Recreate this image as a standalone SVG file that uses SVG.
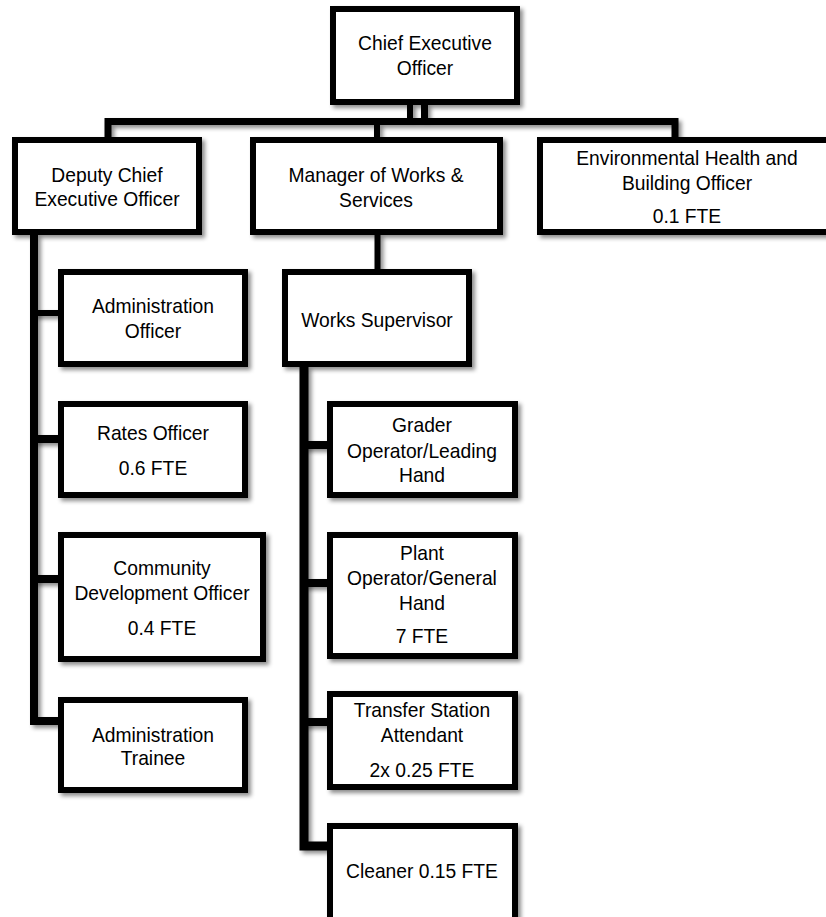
<svg xmlns="http://www.w3.org/2000/svg" width="826" height="917" viewBox="0 0 826 917">
<defs>
<filter id="sh" filterUnits="userSpaceOnUse" x="0" y="0" width="826" height="917">
<feDropShadow dx="3" dy="3" stdDeviation="2" flood-color="#000" flood-opacity="0.45"/>
</filter>
</defs>
<style>
.box{fill:#fff;stroke:#000;stroke-width:6;filter:url(#sh)}
.c{fill:none;stroke:#000;stroke-linejoin:miter;stroke-linecap:butt;filter:url(#sh)}
text{font-family:"Liberation Sans",Arial,sans-serif;font-size:20.5px;fill:#000;text-anchor:middle;transform-box:fill-box;transform-origin:center;transform:scaleX(0.94)}
</style>
<rect width="826" height="917" fill="#fff"/>
<g id="connectors">
<path class="c" d="M108,138 V121.5 H675 V138" stroke-width="7"/>
<path class="c" d="M410,104 V119" stroke-width="6"/>
<path class="c" d="M424.5,104 V119" stroke-width="7"/>
<path class="c" d="M377,124 V138" stroke-width="6"/>
<path class="c" d="M377.5,234 V270" stroke-width="6"/>
<path class="c" d="M34,234 V721 H59" stroke-width="8"/>
<path class="c" d="M34,313 H59" stroke-width="6"/>
<path class="c" d="M34,439 H59" stroke-width="8"/>
<path class="c" d="M34,579 H59" stroke-width="8"/>
<path class="c" d="M304,366 V846 H328" stroke-width="9"/>
<path class="c" d="M304,445 H328" stroke-width="8"/>
<path class="c" d="M304,583 H328" stroke-width="8"/>
<path class="c" d="M304,722 H328" stroke-width="8"/>
</g>
<g id="ceo"><rect class="box" x="333" y="9" width="184" height="93"/><text x="425" y="50">Chief Executive</text><text x="425" y="75">Officer</text></g>
<g id="deputy"><rect class="box" x="15" y="140" width="184" height="92"/><text x="107" y="182">Deputy Chief</text><text x="107" y="206">Executive Officer</text></g>
<g id="manager"><rect class="box" x="253" y="140" width="247" height="92"/><text x="376" y="182">Manager of Works &amp;</text><text x="376" y="207">Services</text></g>
<g id="env"><rect class="box" x="540" y="140" width="294" height="92"/><text x="687" y="165">Environmental Health and</text><text x="687" y="190">Building Officer</text><text x="687" y="223">0.1 FTE</text></g>
<g id="admin-officer"><rect class="box" x="61" y="272" width="184" height="92"/><text x="153" y="313">Administration</text><text x="153" y="338">Officer</text></g>
<g id="rates"><rect class="box" x="61" y="404" width="184" height="91"/><text x="153" y="440">Rates Officer</text><text x="153" y="475">0.6 FTE</text></g>
<g id="community"><rect class="box" x="61" y="535" width="202" height="124"/><text x="162" y="575">Community</text><text x="162" y="600">Development Officer</text><text x="162" y="635">0.4 FTE</text></g>
<g id="trainee"><rect class="box" x="61" y="700" width="184" height="90"/><text x="153" y="742">Administration</text><text x="153" y="765">Trainee</text></g>
<g id="works-supervisor"><rect class="box" x="285" y="272" width="184" height="92"/><text x="377" y="327">Works Supervisor</text></g>
<g id="grader"><rect class="box" x="330" y="404" width="185" height="91"/><text x="422" y="432">Grader</text><text x="422" y="458">Operator/Leading</text><text x="422" y="482">Hand</text></g>
<g id="plant"><rect class="box" x="330" y="535" width="185" height="121"/><text x="422" y="560">Plant</text><text x="422" y="585">Operator/General</text><text x="422" y="610">Hand</text><text x="422" y="643">7 FTE</text></g>
<g id="transfer"><rect class="box" x="330" y="694" width="185" height="93"/><text x="422" y="717">Transfer Station</text><text x="422" y="742">Attendant</text><text x="422" y="777">2x 0.25 FTE</text></g>
<g id="cleaner"><rect class="box" x="330" y="826" width="185" height="96"/><text x="422" y="878">Cleaner 0.15 FTE</text></g>
</svg>
